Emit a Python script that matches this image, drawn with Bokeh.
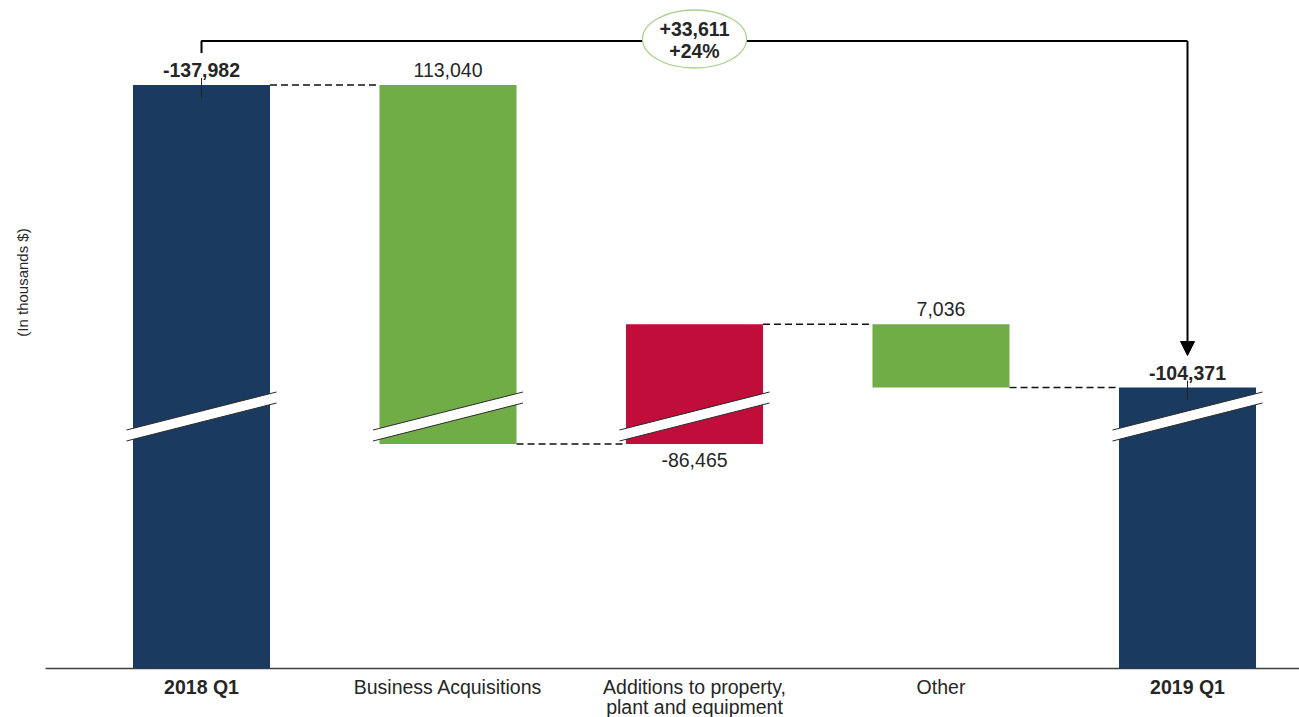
import math
from bokeh.plotting import figure
from bokeh.models import Range1d, Arrow, NormalHead
from bokeh.core.properties import value
from bokeh.embed import file_html
from bokeh.resources import INLINE

# ---------------- data ----------------
categories = ["2018 Q1", "Business Acquisitions", "Additions to property,\nplant and equipment", "Other", "2019 Q1"]
values = [-137982, 113040, -86465, 7036, -104371]
is_total = [True, False, False, False, True]
value_labels = ["-137,982", "113,040", "-86,465", "7,036", "-104,371"]
change_label = "+33,611"
change_pct_label = "+24%"
y_title = "(In thousands $)"

# ---------------- style ----------------
NAVY = "#1B3A5F"
GREEN = "#70AD47"
RED = "#C10D3A"
TXT = "#262626"
FONT = value("Liberation Sans")
FS = "19.5px"

W, H = 1299, 717
X0_PX, DX_PX = 201.0, 246.5          # first category centre, spacing
BASE_PX = 668.0                       # baseline pixel row
PPU = 0.009                           # pixels per data unit (y)
BAR_W = 0.556

# broken axis: values above BREAK_LO are shifted down by BREAK_GAP
BREAK_LO = 28000
BREAK_GAP = 73151


def disp(v):
    return v if v <= BREAK_LO else v - BREAK_GAP


def px(n):  # pixels -> y data units
    return n / PPU


def pxx(n):  # pixels -> x data units
    return n / DX_PX


# ---------------- waterfall levels ----------------
n = len(values)
lo, hi, after = [], [], []
running = 0
for v, tot in zip(values, is_total):
    if tot:
        a, b = 0, -v
        running = v
    else:
        a, b = -running, -(running + v)
        running = running + v
    lo.append(min(a, b))
    hi.append(max(a, b))
    after.append(-running)

colors = [NAVY if t else (GREEN if v > 0 else RED) for v, t in zip(values, is_total)]
xs = list(range(n))

p = figure(width=W, height=H, output_backend="svg", toolbar_location=None,
           x_range=Range1d(-X0_PX / DX_PX, (W - X0_PX) / DX_PX),
           y_range=Range1d(-px(H - BASE_PX), px(BASE_PX)),
           min_border=0)
p.axis.visible = False
p.grid.visible = False
p.outline_line_color = None
p.background_fill_color = "white"

# baseline
p.segment(x0=[pxx(45 - X0_PX)], y0=[0], x1=[(W - X0_PX) / DX_PX], y1=[0],
          line_color="#404040", line_width=1.5)

# bars
p.vbar(x=xs, width=BAR_W, bottom=[disp(v) for v in lo], top=[disp(v) for v in hi],
       fill_color=colors, line_color=None)

# connectors
cx0 = [i + BAR_W / 2 for i in range(n - 1)]
cx1 = [i + 1 - BAR_W / 2 for i in range(n - 1)]
cy = [disp(after[i]) for i in range(n - 1)]
p.segment(x0=cx0, y0=cy, x1=cx1, y1=cy, line_color="#111111", line_width=1.4, line_dash="7 4")

# axis breaks
hw, rise, th = pxx(75), px(19), px(5.5)
bxs, bys, exs, eys = [], [], [], []
for i in range(n):
    if lo[i] < BREAK_LO < hi[i]:
        yb = BREAK_LO
        bxs.append([i - hw, i + hw, i + hw, i - hw])
        bys.append([yb - rise - th, yb + rise - th, yb + rise + th, yb - rise + th])
        exs += [[i - hw, i + hw], [i - hw, i + hw]]
        eys += [[yb - rise - th, yb + rise - th], [yb - rise + th, yb + rise + th]]
p.patches(bxs, bys, fill_color="white", line_color=None)
p.multi_line(exs, eys, line_color="#2b2b2b", line_width=1)

# value labels
for i in range(n):
    style = "bold" if is_total[i] else "normal"
    if is_total[i] or values[i] > 0:
        yy, off = disp(hi[i]), -15
    else:
        yy, off = disp(lo[i]), 16
    p.text(x=[i], y=[yy], text=[value_labels[i]], text_align="center",
           text_baseline="middle", y_offset=off, text_font=FONT,
           text_font_size=FS, text_font_style=style, text_color=TXT)

# category labels (one glyph per line)
for i, cat in enumerate(categories):
    for k, line in enumerate(cat.split("\n")):
        p.text(x=[i], y=[-px(18 + 20 * k)], text=[line], text_align="center",
               text_baseline="middle", text_font=FONT, text_font_size=FS,
               text_font_style="bold" if is_total[i] else "normal", text_color=TXT)

# change bracket
top0 = disp(hi[0])
topN = disp(hi[-1])
y_br = top0 + px(44)
p.line(x=[0, 0, n - 1], y=[top0 + px(32), y_br, y_br], line_color="black", line_width=2)
p.add_layout(Arrow(end=NormalHead(size=14, fill_color="black", line_color="black"),
                   x_start=n - 1, y_start=y_br, x_end=n - 1, y_end=topN + px(32),
                   line_color="black", line_width=2))
# small ticks into the total bars
p.segment(x0=[0, n - 1], y0=[top0 + px(7), topN + px(7)], x1=[0, n - 1],
          y1=[top0 - px(13), topN - px(12)], line_color="#222222", line_width=1)

# change bubble
p.ellipse(x=[(n - 1) / 2], y=[y_br + px(2)], width=pxx(104), height=px(58),
          fill_color="white", line_color="#A9D18E", line_width=1.3)
p.text(x=[(n - 1) / 2], y=[y_br], text=[change_label], text_align="center",
       text_baseline="middle", y_offset=-12, text_font=FONT, text_font_size=FS,
       text_font_style="bold", text_color=TXT)
p.text(x=[(n - 1) / 2], y=[y_br], text=[change_pct_label], text_align="center",
       text_baseline="middle", y_offset=10, text_font=FONT, text_font_size=FS,
       text_font_style="bold", text_color=TXT)

# y title
p.text(x=[pxx(22 - X0_PX)], y=[px(BASE_PX - 282)], text=[y_title], angle=math.pi / 2,
       text_align="center", text_baseline="middle", text_font=FONT,
       text_font_size="15px", text_color="#2a2a2a")

open("out.html", "w").write(file_html(p, INLINE))
